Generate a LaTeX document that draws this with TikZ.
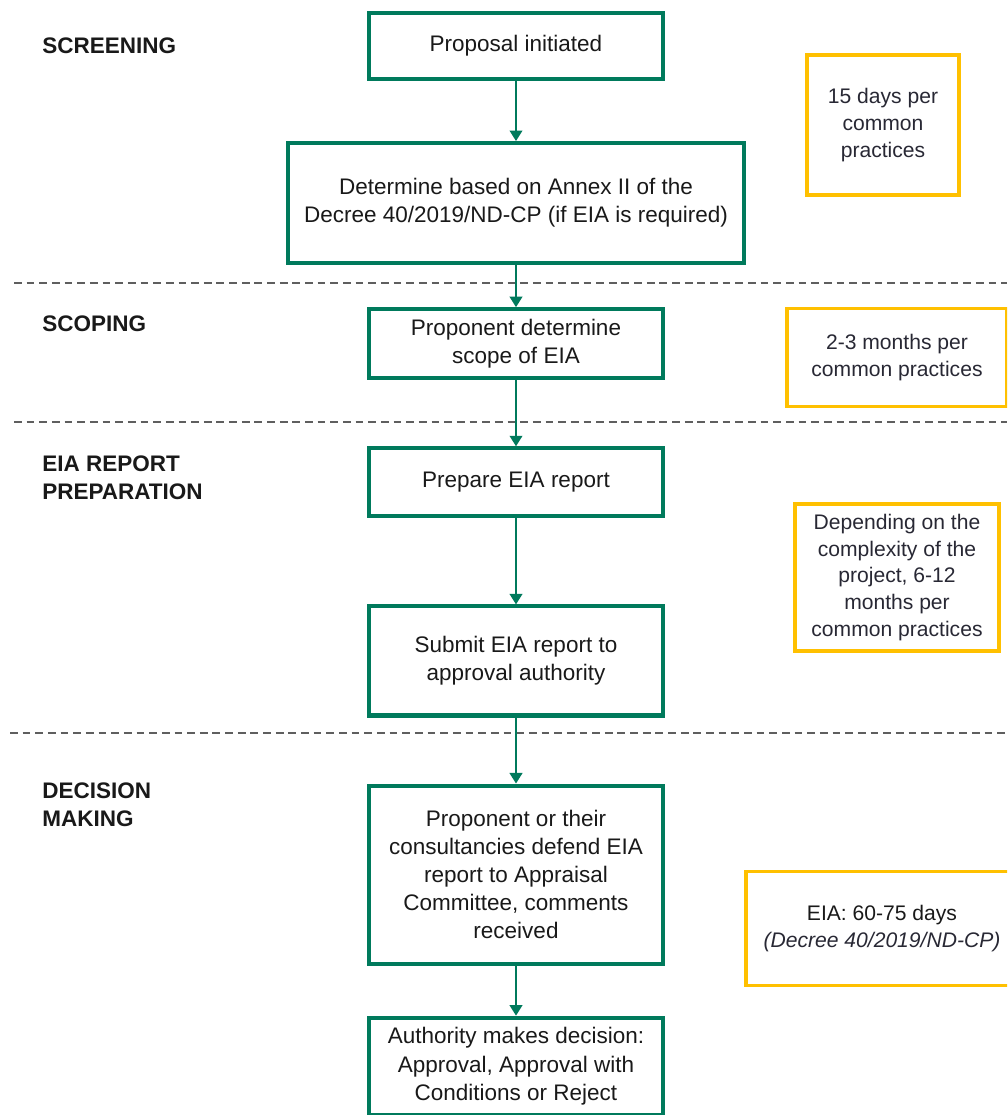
\documentclass[tikz,border=0pt]{standalone}
\usepackage{xcolor}
\usepackage{fontspec}
\setmainfont{Liberation Sans}
\usetikzlibrary{positioning,arrows.meta}
\definecolor{eia-green}{RGB}{0,122,92}
\definecolor{eia-gold}{RGB}{255,192,0}
\definecolor{sep-gray}{RGB}{95,95,95}
\definecolor{note-text}{RGB}{40,40,52}

\begin{document}
\begin{tikzpicture}[
    x=0.025cm, y=-0.025cm,
    node distance=1.5cm,
    stepbox/.style={rectangle, draw=eia-green, line width=2.9pt, minimum width=7.35cm, align=center, font=\fontsize{16}{20}\selectfont, text=black!90},
    note/.style={rectangle, draw=eia-gold, line width=2.5pt, align=center, font=\fontsize{15}{19}\selectfont, text=note-text},
    phase/.style={anchor=west, align=left, inner sep=0pt, font=\fontsize{16}{20}\selectfont\bfseries, text=black!90},
    arrow/.style={-{Triangle[length=7.5pt,width=9pt]}, draw=eia-green, line width=1.4pt},
    separator/.style={draw=sep-gray, line width=1pt, dash pattern=on 5.5pt off 3.5pt}
]
\clip (0,0) rectangle (1007,1115);

% Phases
\node[phase] (screening) at (42,46) {SCREENING};
\node[phase] (scoping) at (42,324) {SCOPING};
\node[phase] (report) at (42,478) {EIA REPORT\\PREPARATION};
\node[phase] (decision) at (42,805) {DECISION\\MAKING};

% Separators
\draw[separator] (14,283) -- (1007,283);
\draw[separator] (14,422) -- (1007,422);
\draw[separator] (10,733) -- (1007,733);

% Steps
\node[stepbox, minimum height=1.65cm] (proposal) at (516,46) {Proposal initiated};
\node[stepbox, minimum width=11.375cm, minimum height=3cm, below=1.5cm of proposal] (annex) {Determine based on Annex II of the\\Decree 40/2019/ND-CP (if EIA is required)};
\node[stepbox, minimum height=1.725cm, below=1.05cm of annex] (scope) {Proponent determine\\scope of EIA};
\node[stepbox, minimum height=1.7cm, below=1.65cm of scope] (prepare) {Prepare EIA report};
\node[stepbox, minimum height=2.725cm, below=2.15cm of prepare] (submit) {Submit EIA report to\\approval authority};
\node[stepbox, minimum height=4.45cm, below=1.65cm of submit] (defend) {Proponent or their\\consultancies defend EIA\\report to Appraisal\\Committee, comments\\received};
\node[stepbox, minimum height=2.425cm, below=1.25cm of defend] (verdict) {Authority makes decision:\\Approval, Approval with\\Conditions or Reject};

% Durations
\node[note, minimum width=3.8cm, minimum height=3.5cm] (t-screen) at (883,125) {15 days per\\common\\practices};
\node[note, minimum width=5.5cm, minimum height=2.44cm] (t-scope) at (897,357.5) {2-3 months per\\common practices};
\node[note, minimum width=5.1cm, minimum height=3.68cm] (t-report) at (897,577.5) {Depending on the\\complexity of the\\project, 6-12\\months per\\common practices};
\node[note, minimum width=6.8cm, minimum height=2.84cm] (t-decision) at (882,928.5) {\textcolor{black!90}{EIA: 60-75 days}\\\textit{(Decree 40/2019/ND-CP)}};

% Arrows
\draw[arrow] (proposal) -- (annex);
\draw[arrow] (annex) -- (scope);
\draw[arrow] (scope) -- (prepare);
\draw[arrow] (prepare) -- (submit);
\draw[arrow] (submit) -- (defend);
\draw[arrow] (defend) -- (verdict);

\end{tikzpicture}
\end{document}
